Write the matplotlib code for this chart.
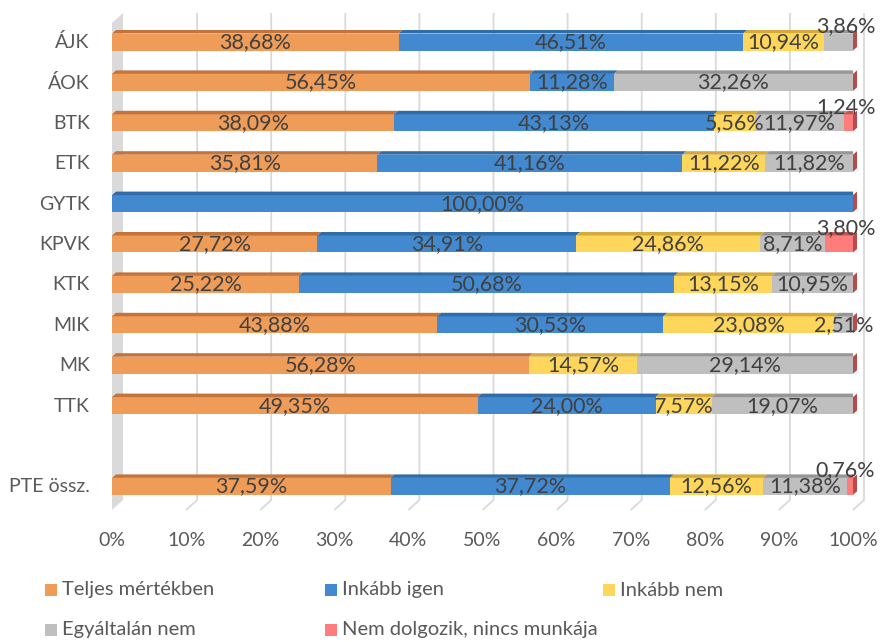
import matplotlib.pyplot as plt
from matplotlib.patches import Polygon, Rectangle

plt.rcParams['font.family'] = ['Lato', 'DejaVu Sans']

# Data
categories = ['ÁJK', 'ÁOK', 'BTK', 'ETK', 'GYTK', 'KPVK', 'KTK', 'MIK', 'MK', 'TTK', '', 'PTE össz.']
series = ['Teljes mértékben', 'Inkább igen', 'Inkább nem', 'Egyáltalán nem', 'Nem dolgozik, nincs munkája']
teljes = [38.68, 56.45, 38.09, 35.81, 0, 27.72, 25.22, 43.88, 56.28, 49.35, None, 37.59]
inkabb_igen = [46.51, 11.28, 43.13, 41.16, 100.00, 34.91, 50.68, 30.53, 0, 24.00, None, 37.72]
inkabb_nem = [10.94, 0, 5.56, 11.22, 0, 24.86, 13.15, 23.08, 14.57, 7.57, None, 12.56]
egyaltalan = [3.86, 32.26, 11.97, 11.82, 0, 8.71, 10.95, 2.51, 29.14, 19.07, None, 11.38]
nem_dolgozik = [0, 0, 1.24, 0, 0, 3.80, 0, 0, 0, 0, None, 0.76]
values = [teljes, inkabb_igen, inkabb_nem, egyaltalan, nem_dolgozik]

colors = ['#F09C59', '#4389D0', '#FFD65C', '#BFBFBF', '#FF7C7C']
tops = ['#C4733A', '#2F6CA8', '#D4AA3A', '#969696', '#C45555']
cap_color = '#B84B4B'
txt = '#404040'
axis_txt = '#595959'

fig = plt.figure(figsize=(8.83, 6.42), dpi=100)
W, H = 883, 642
x0_px, x1_px = 112, 853
top_px, bot_px = 13, 510
ax = fig.add_axes([x0_px / W, (H - bot_px) / H, (x1_px - x0_px) / W, (bot_px - top_px) / H])
ppx = 100 / (x1_px - x0_px)        # data units per pixel (x)
ppy = 1 / 40.4                      # data units per pixel (y)
y_top = (top_px - 41) * ppy
y_bot = (bot_px - 41) * ppy
ax.set_xlim(0, 100)
ax.set_ylim(y_bot, y_top)

# 3D-ish side wall and back gridlines
wdx, wdy = 11 * ppx, 10 * ppy
ax.add_patch(Polygon([(0, y_bot), (0, y_top + 10 * ppy), (wdx, y_top), (wdx, y_bot - wdy)],
                     closed=True, facecolor='#DADADA', edgecolor='none', zorder=1, clip_on=False))
for v in range(10, 101, 10):
    ax.plot([v + wdx, v + wdx, v], [y_top, y_bot - wdy, y_bot], color='#D9D9D9', lw=1.3,
            zorder=0.5, clip_on=False, solid_capstyle='butt')

# bars
face_h = 17 * ppy
bdx, bdy = 4 * ppx, 3.5 * ppy
for i, cat in enumerate(categories):
    if teljes[i] is None:
        continue
    yc = i + 1 * ppy
    yt, yb = yc - face_h / 2, yc + face_h / 2
    left = 0
    for s in range(len(series)):
        w = values[s][i]
        if w > 0:
            ax.barh(yc, w, left=left, height=face_h, color=colors[s], zorder=3, linewidth=0)
            ax.add_patch(Polygon([(left, yt), (left + w, yt), (left + w + bdx, yt - bdy), (left + bdx, yt - bdy)],
                                 closed=True, facecolor=tops[s], edgecolor='none', zorder=3))
        left += w
    ax.add_patch(Polygon([(100, yb), (100, yt), (100 + bdx, yt - bdy), (100 + bdx, yb - bdy)],
                         closed=True, facecolor=cap_color, edgecolor='none', zorder=4, clip_on=False))

# data labels
above = {(0, 3), (2, 4), (5, 4), (11, 4)}
for i, cat in enumerate(categories):
    if teljes[i] is None:
        continue
    left = 0
    for s in range(len(series)):
        w = values[s][i]
        if w > 0:
            label = f'{w:.2f}%'.replace('.', ',')
            if (i, s) in above:
                ax.text(99.0, i - 15 * ppy, label, ha='center', va='center', fontsize=15.5,
                        color=txt, zorder=6, clip_on=False)
            else:
                ax.text(left + w / 2, i + 1 * ppy, label, ha='center', va='center', fontsize=15.5,
                        color=txt, zorder=6)
        left += w

# axes text
ax.set_yticks(range(len(categories)))
ax.set_yticklabels(categories, fontsize=14, color=axis_txt)
ax.set_xticks(range(0, 101, 10))
ax.set_xticklabels([f'{v}%' for v in range(0, 101, 10)], fontsize=14, color=axis_txt)
ax.tick_params(axis='y', length=0, pad=16)
ax.tick_params(axis='x', length=0, pad=16)
for sp in ax.spines.values():
    sp.set_visible(False)

# legend (Excel style, fixed column widths)
leg_cols = [45, 325, 603]
leg_rows = [590, 630]
for k, name in enumerate(series):
    r, c = divmod(k, 3)
    x, y = leg_cols[c], leg_rows[r]
    fig.patches.append(Rectangle((x / W, (H - y - 6) / H), 12 / W, 12 / H, facecolor=colors[k],
                                 edgecolor='none', transform=fig.transFigure, figure=fig))
    fig.text((x + 17) / W, (H - y) / H, name, fontsize=14.5, color=axis_txt, va='center', ha='left')

fig.savefig('out.png', dpi=100)
